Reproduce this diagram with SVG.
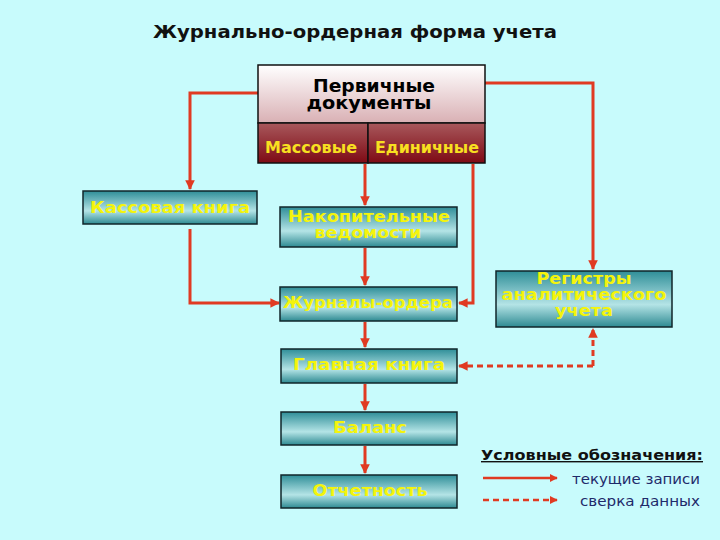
<svg xmlns="http://www.w3.org/2000/svg" width="720" height="540" viewBox="0 0 720 540">
<defs>
<linearGradient id="teal" x1="0" y1="0" x2="0" y2="1">
<stop offset="0" stop-color="#2F8E98"/>
<stop offset="0.6" stop-color="#B4E4E6"/>
<stop offset="1" stop-color="#2E8A92"/>
</linearGradient>
<linearGradient id="pink" x1="0" y1="0" x2="0" y2="1">
<stop offset="0" stop-color="#FFFFFF"/>
<stop offset="1" stop-color="#D9B0B4"/>
</linearGradient>
<linearGradient id="maroon" x1="0" y1="0" x2="0" y2="1">
<stop offset="0" stop-color="#A8585C"/>
<stop offset="1" stop-color="#7E0A14"/>
</linearGradient>
<marker id="ah" viewBox="0 0 10 10" refX="9" refY="5" markerWidth="3.2" markerHeight="3.2" orient="auto-start-reverse">
<path d="M0,0 L10,5 L0,10 z" fill="#E03A22"/>
</marker>
</defs>
<style>
.box{fill:url(#teal);stroke:#10262A;stroke-width:1.5}
.lbl{font-family:"DejaVu Sans",Verdana,sans-serif;font-weight:bold;font-size:15px;fill:#F4F40C;text-anchor:middle}
.con{fill:none;stroke:#E03A22;stroke-width:3;marker-end:url(#ah)}
.dash{stroke-dasharray:6,4}
.leg{font-family:"DejaVu Sans",Verdana,sans-serif;font-size:14px;fill:#1F2A6A;text-anchor:middle}
</style>
<rect width="720" height="540" fill="#C8FBFC"/>
<text x="355" y="38" font-family="DejaVu Sans,Verdana,sans-serif" font-weight="bold" font-size="18" fill="#111" text-anchor="middle" textLength="404" lengthAdjust="spacingAndGlyphs">Журнально-ордерная форма учета</text>

<g id="connectors">
<path class="con" d="M258,93 H190 V189"/>
<path class="con" d="M190,229 V303 H279"/>
<path class="con" d="M365,164 V205"/>
<path class="con" d="M473,164 V303 H459"/>
<path class="con" d="M485,83 H593 V269"/>
<path class="con" d="M365,248 V285"/>
<path class="con" d="M365,322 V347"/>
<path class="con" d="M365,384 V410"/>
<path class="con" d="M365,446 V473"/>
<path class="con dash" d="M593,366 H459"/>
<path class="con dash" d="M593,366 V329"/>
</g>

<g id="primary">
<rect x="258" y="65" width="227" height="58" fill="url(#pink)" stroke="#111" stroke-width="1.5"/>
<rect x="258" y="123" width="110" height="40" fill="url(#maroon)" stroke="#111" stroke-width="1.5"/>
<rect x="368" y="123" width="117" height="40" fill="url(#maroon)" stroke="#111" stroke-width="1.5"/>
<text x="374" y="92" font-family="DejaVu Sans,Verdana,sans-serif" font-weight="bold" font-size="18" fill="#000" text-anchor="middle" textLength="122" lengthAdjust="spacingAndGlyphs">Первичные</text>
<text x="369" y="109" font-family="DejaVu Sans,Verdana,sans-serif" font-weight="bold" font-size="18" fill="#000" text-anchor="middle" textLength="125" lengthAdjust="spacingAndGlyphs">документы</text>
<text x="311" y="153" class="lbl" style="fill:#F8E020" textLength="92" lengthAdjust="spacingAndGlyphs">Массовые</text>
<text x="427" y="153" class="lbl" style="fill:#F8E020" textLength="104" lengthAdjust="spacingAndGlyphs">Единичные</text>
</g>

<g id="kassa">
<rect class="box" x="83" y="191" width="174" height="33"/>
<text class="lbl" x="170" y="213" textLength="160" lengthAdjust="spacingAndGlyphs">Кассовая книга</text>
</g>

<g id="nakop">
<rect class="box" x="280" y="207" width="177" height="40"/>
<text class="lbl" x="369" y="222" textLength="162" lengthAdjust="spacingAndGlyphs">Накопительные</text>
<text class="lbl" x="368" y="238" textLength="107" lengthAdjust="spacingAndGlyphs">ведомости</text>
</g>

<g id="zhurnaly">
<rect class="box" x="280" y="287" width="177" height="34"/>
<text class="lbl" x="368" y="308" textLength="170" lengthAdjust="spacingAndGlyphs">Журналы-ордера</text>
</g>

<g id="registry">
<rect class="box" x="496" y="271" width="176" height="56"/>
<text class="lbl" x="584" y="284" textLength="95" lengthAdjust="spacingAndGlyphs">Регистры</text>
<text class="lbl" x="584" y="300" textLength="165" lengthAdjust="spacingAndGlyphs">аналитического</text>
<text class="lbl" x="584" y="316" textLength="58" lengthAdjust="spacingAndGlyphs">учета</text>
</g>

<g id="glavnaya">
<rect class="box" x="281" y="349" width="176" height="34"/>
<text class="lbl" x="369" y="370" textLength="152" lengthAdjust="spacingAndGlyphs">Главная книга</text>
</g>

<g id="balans">
<rect class="box" x="281" y="412" width="176" height="33"/>
<text class="lbl" x="370" y="433" textLength="74" lengthAdjust="spacingAndGlyphs">Баланс</text>
</g>

<g id="otchet">
<rect class="box" x="281" y="475" width="176" height="33"/>
<text class="lbl" x="370" y="496" textLength="115" lengthAdjust="spacingAndGlyphs">Отчетность</text>
</g>

<g id="legend">
<text x="592" y="460" font-family="DejaVu Sans,Verdana,sans-serif" font-weight="bold" font-size="14" fill="#111" text-anchor="middle" text-decoration="underline" textLength="222" lengthAdjust="spacingAndGlyphs">Условные обозначения:</text>
<path class="con" style="stroke-width:2.5" d="M483,478 H557"/>
<path class="con dash" style="stroke-width:2.5" d="M483,500 H557"/>
<text class="leg" x="636" y="484" textLength="128" lengthAdjust="spacingAndGlyphs">текущие записи</text>
<text class="leg" x="640" y="506" textLength="120" lengthAdjust="spacingAndGlyphs">сверка данных</text>
</g>
</svg>
